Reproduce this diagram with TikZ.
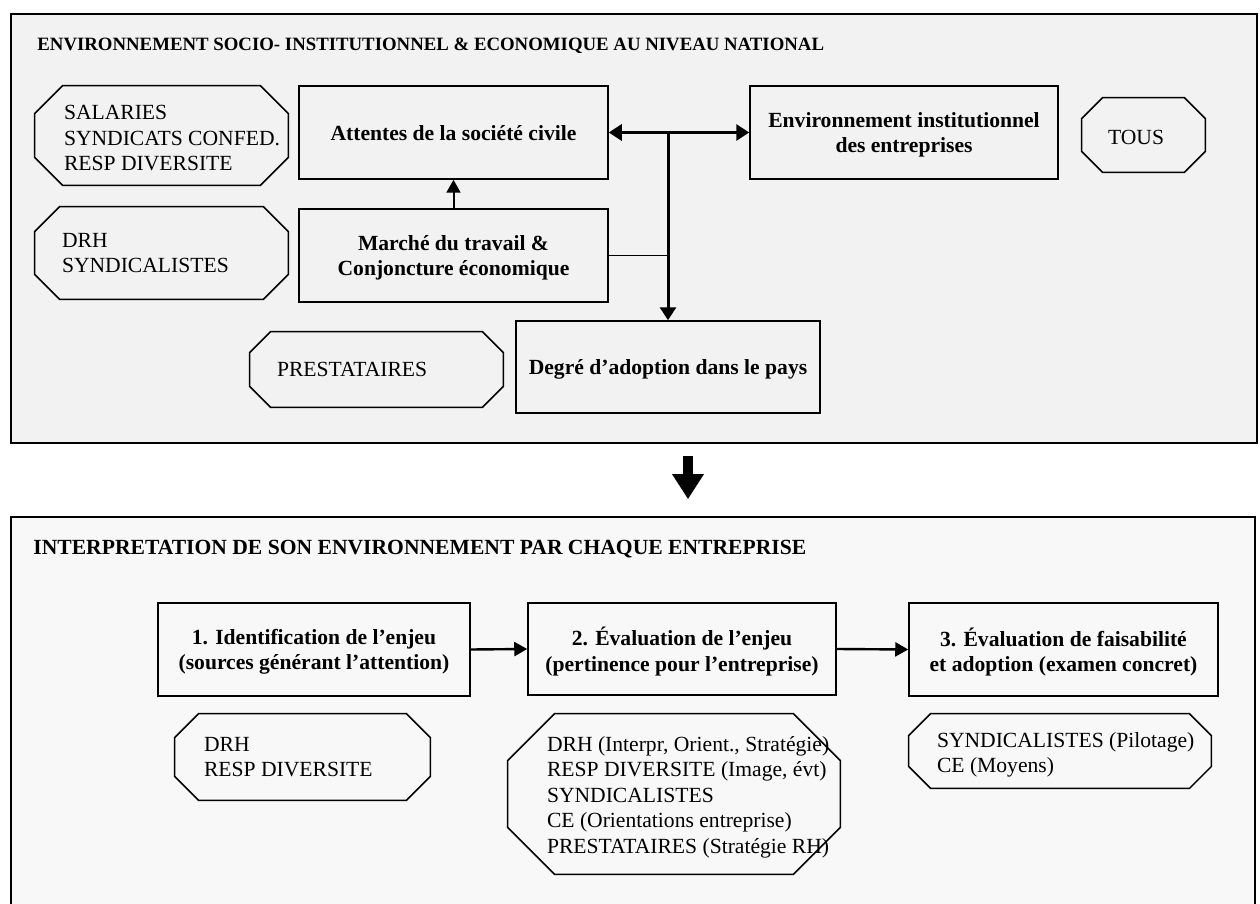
\documentclass[tikz,border=0pt]{standalone}
\usepackage{fontspec}
\setmainfont{Liberation Serif}
\usetikzlibrary{arrows.meta,calc}
\definecolor{natlgray}{HTML}{F2F2F2}
\definecolor{firmgray}{HTML}{F8F8F8}
\def\txt{\fontsize{10.8}{12.75}\selectfont}
% octagon round a named node, #2 = size of the cut corners
\def\octagon(#1)#2{\draw[line width=0.75pt] ($(#1.north west)+(#2,0)$) -- ($(#1.north east)+(-#2,0)$) -- ($(#1.north east)+(0,#2)$) -- ($(#1.south east)+(0,-#2)$) -- ($(#1.south east)+(-#2,0)$) -- ($(#1.south west)+(#2,0)$) -- ($(#1.south west)+(0,-#2)$) -- ($(#1.north west)+(0,#2)$) -- cycle;}
\tikzset{
	frame/.style={draw, line width=0.8pt, inner sep=0pt},
	block/.style={draw, line width=0.75pt, align=center, inner sep=0pt, text depth=0pt, font=\txt\bfseries},
	actors/.style={inner sep=0pt},
	actortext/.style={anchor=west, align=left, inner sep=0pt, font=\txt},
	flow/.style={line width=1.2pt, -{Triangle[length=6.5pt,width=7pt]}},
}

\begin{document}
\begin{tikzpicture}[x=0.5pt, y=-0.5pt]
			%%%%% START %%%%%
			\useasboundingbox (0, 0) rectangle (1260, 904);
			
			% the two big frames
			\node[frame, fill=natlgray, minimum width=623pt, minimum height=214.5pt] (natl) at (634, 228.5) {};
			\node[frame, fill=firmgray, minimum width=622pt, minimum height=201pt] (firm) at (633, 718) {};
			
			\node[anchor=base west, inner sep=0pt, font=\fontsize{9.4}{11}\selectfont\bfseries] (natltitle) at (37, 51) {ENVIRONNEMENT SOCIO- INSTITUTIONNEL \& ECONOMIQUE AU NIVEAU NATIONAL};
			\node[anchor=base west, inner sep=0pt, font=\txt\bfseries] (firmtitle) at (33, 554) {INTERPRETATION DE SON ENVIRONNEMENT PAR CHAQUE ENTREPRISE};
			
			% national level
			\node[block, minimum width=154.5pt, minimum height=46.5pt] (attentes) at (453.5, 132.5) {Attentes de la société civile};
			\node[block, minimum width=154.5pt, minimum height=46.5pt] (marche) at (453.5, 255.5) {Marché du travail \&\\Conjoncture économique};
			\node[block, minimum width=154pt, minimum height=46.5pt] (envinst) at (904, 132.5) {Environnement institutionnel\\des entreprises};
			\node[block, minimum width=152pt, minimum height=46pt] (degre) at (668, 367) {Degré d’adoption dans le pays};
			
			\node[actors, minimum width=126.5pt, minimum height=49.5pt] (salaries) at (161.5, 135.5) {};
			\octagon(salaries){28}
			\node[actortext] at ($(salaries.west)+(29, 3)$) {SALARIES\\SYNDICATS CONFED.\\RESP DIVERSITE};
			\node[actors, minimum width=126.5pt, minimum height=46pt] (drhsynd) at (161.5, 253) {};
			\octagon(drhsynd){25}
			\node[actortext] at ($(drhsynd.west)+(27, 0)$) {DRH\\SYNDICALISTES};
			\node[actors, minimum width=126.5pt, minimum height=37.5pt] (prest) at (376.5, 369.5) {};
			\octagon(prest){21}
			\node[actortext] at ($(prest.west)+(27, 0)$) {PRESTATAIRES};
			\node[actors, minimum width=61.5pt, minimum height=37pt] (tous) at (1143.5, 135) {};
			\octagon(tous){21}
			\node[actortext] at ($(tous.west)+(26, 2)$) {TOUS};
			
			\draw[line width=1pt, -{Triangle[length=6.5pt,width=7pt]}] (marche.north) -- (attentes.south);
			\draw[line width=1.5pt, {Triangle[length=6.5pt,width=8pt]}-{Triangle[length=6.5pt,width=8pt]}] (attentes.east) -- (envinst.west);
			\draw[line width=1.5pt, -{Triangle[length=6.5pt,width=8pt]}] (attentes.east -| degre.north) -- (degre.north);
			\draw[line width=0.75pt] (marche.east) -- (marche.east -| degre.north);
			
			% big arrow between the frames
			\draw[line width=5pt, -{Triangle[length=12.5pt,width=15pt]}] ($(natl.south)+(54, 12)$) -- ($(firm.north)+(55, -17)$);
			
			% firm level
			\node[block, minimum width=156pt, minimum height=46.5pt] (ident) at (314, 649.5) {1. Identification de l’enjeu\\(sources générant l’attention)};
			\node[block, minimum width=154pt, minimum height=46pt] (evalenj) at (682, 649) {2. Évaluation de l’enjeu\\(pertinence pour l’entreprise)};
			\node[block, minimum width=154.5pt, minimum height=46.5pt] (faisab) at (1063.5, 649.5) {3. Évaluation de faisabilité\\et adoption (examen concret)};
			
			\draw[flow] (ident.east) -- (evalenj.west);
			\draw[flow] (evalenj.east) -- (faisab.west);
			
			\node[actors, minimum width=127.5pt, minimum height=43pt] (drhresp) at (302.5, 757) {};
			\octagon(drhresp){24}
			\node[actortext] at ($(drhresp.west)+(29, 0)$) {DRH\\RESP DIVERSITE};
			\node[actors, minimum width=166pt, minimum height=80pt] (acteurs) at (674, 794) {};
			\octagon(acteurs){47}
			\node[actortext] at ($(acteurs.west)+(39, 3)$) {DRH (Interpr, Orient., Stratégie)\\RESP DIVERSITE (Image, évt)\\SYNDICALISTES\\CE (Orientations entreprise)\\PRESTATAIRES (Stratégie RH)};
			\node[actors, minimum width=151pt, minimum height=37pt] (synd) at (1060, 751) {};
			\octagon(synd){22}
			\node[actortext] at ($(synd.west)+(28, 4)$) {SYNDICALISTES (Pilotage)\\CE (Moyens)};
			
			%%%%% END %%%%%
\end{tikzpicture}
\end{document}
